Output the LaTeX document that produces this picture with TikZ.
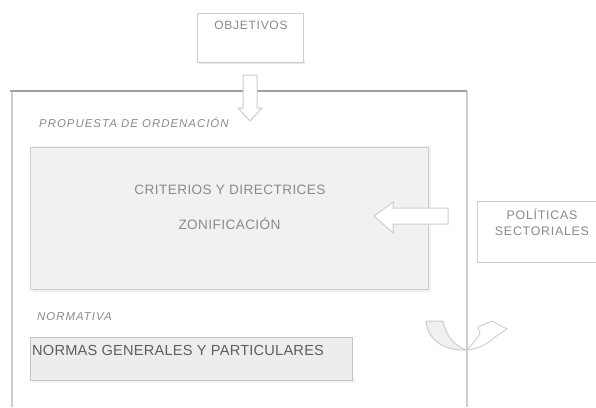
\documentclass[tikz,border=0pt]{standalone}
\usepackage{fontspec}
\setmainfont{Liberation Sans}
\newfontfamily\wsans[LetterSpace=6]{Liberation Sans}
\newfontfamily\isans[LetterSpace=9]{Liberation Sans}
\newfontfamily\msans[LetterSpace=3]{Liberation Sans}
\newfontfamily\nsans[LetterSpace=1.5]{Liberation Sans}
\definecolor{txtgray}{HTML}{8A8A8A}
\definecolor{txtdark}{HTML}{5E5E5E}
\definecolor{linegray}{HTML}{CDCDCD}
\definecolor{topgray}{HTML}{A0A0A0}
\definecolor{boxfill}{HTML}{F1F1F1}
\definecolor{normfill}{HTML}{EDEDED}
\begin{document}
\begin{tikzpicture}[x=1pt,y=-1pt,
  frame/.style={draw=linegray,line width=1.6pt},
  plainbox/.style={draw=linegray,line width=1pt,fill=white},
  greybox/.style={draw=linegray,line width=1pt,fill=boxfill},
  blockarrow/.style={draw=linegray,line width=1pt,fill=white,line join=miter},
  lbl/.style={text=txtgray,inner sep=0pt,anchor=center},
  ilbl/.style={text=txtgray,inner sep=0pt,anchor=west,font=\isans\itshape\fontsize{11.4}{13}\selectfont}]
\useasboundingbox (0,0) rectangle (596,407);

% outer frame
\coordinate (fbl) at (12,407);
\coordinate (ftl) at (12,91);
\coordinate (ftr) at (467,91);
\coordinate (fbr) at (467,407);
\draw[frame] (fbl) -- (ftl);
\draw[frame] (ftr) -- (fbr);
\draw[draw=topgray,line width=1.2pt] (10,91) -- (ftr);

% OBJETIVOS box with shadow
\fill[gray!18] (199,60) rectangle (305,64);
\node[plainbox,minimum width=106pt,minimum height=49pt,inner sep=0pt] (obj) at (250,37.5) {};
\node[lbl,font=\wsans\fontsize{12}{14}\selectfont] (objt) at (251,25) {OBJETIVOS};

% down arrow
\draw[blockarrow] (243,75) -- (257,75) -- (257,108) -- (262,108) -- (250,121) -- (238,108) -- (243,108) -- cycle;

% propuesta
\node[ilbl] (prop) at (39,123) {PROPUESTA DE ORDENACIÓN};

% big box
\fill[gray!12] (33,146) rectangle (431,292);
\node[greybox,minimum width=398pt,minimum height=142pt,inner sep=0pt] (big) at (229,218) {};
\node[lbl,font=\msans\fontsize{13.6}{16}\selectfont] (crit) at (230,190) {CRITERIOS Y DIRECTRICES};
\node[lbl,font=\msans\fontsize{13.6}{16}\selectfont] (zon) at (229.5,224) {ZONIFICACIÓN};

% left arrow
\draw[blockarrow] (448,208) -- (448,224) -- (393,224) -- (393,233) -- (374,216) -- (393,202) -- (393,208) -- cycle;

% politicas
\node[plainbox,minimum width=120pt,minimum height=61pt,inner sep=0pt] (pol) at (537,231.5) {};
\node[lbl,font=\wsans\fontsize{12.4}{14}\selectfont,align=center] (polt) at (542,222.5) {POLÍTICAS\\[2pt]SECTORIALES};

% normativa
\node[ilbl] (norm) at (37,317) {NORMATIVA};

% normas box
\fill[gray!10] (32,378) rectangle (355,383);
\node[greybox,draw=gray!45,fill=normfill,minimum width=322pt,minimum height=43pt,inner sep=0pt] (normas) at (191,358.5) {};
\node[text=txtdark,inner sep=0pt,anchor=west,font=\nsans\fontsize{14.6}{17}\selectfont] (normast) at (32,350) {NORMAS GENERALES Y PARTICULARES};

% curved arrow
\coordinate (cbot) at (467,350);
\draw[draw=linegray,fill=gray!12,line width=1pt,line join=round]
  (426,321) -- (443,321) .. controls (446,337) and (455,346) .. (cbot)
  .. controls (448,351) and (428,343) .. cycle;
\draw[draw=linegray,fill=white,line width=0.9pt,line join=round]
  (cbot) .. controls (472,345) and (476,339) .. (480,334)
  -- (478,327) -- (492,321) -- (507,329) -- (495,337)
  .. controls (488,344) and (478,349) .. (cbot);
\end{tikzpicture}
\end{document}
